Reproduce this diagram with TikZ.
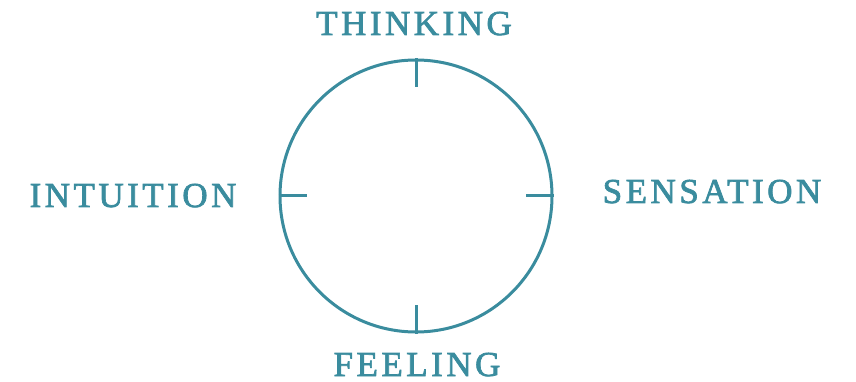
\documentclass[tikz,border=0pt]{standalone}
\usepackage{fontspec}
\setmainfont{Liberation Serif}
\newfontfamily\labfont[LetterSpace=10,FakeBold=2]{Liberation Serif}
\definecolor{jteal}{RGB}{58,140,158}
\begin{document}
\begin{tikzpicture}[x=1pt,y=-1pt,
  lab/.style={text=jteal, font=\labfont\fontsize{35}{35}\selectfont, inner sep=0pt, anchor=base},
  tick/.style={draw=jteal, line width=3pt}]
\useasboundingbox (0,0) rectangle (856,382);
\node[circle, draw=jteal, line width=3pt, minimum size=272pt, inner sep=0pt] (c) at (416,196) {};
\coordinate (tn) at ([yshift=-29pt]c.north);
\coordinate (ts) at ([yshift=29pt]c.south);
\coordinate (tw) at ([xshift=28pt]c.west);
\coordinate (te) at ([xshift=-28pt]c.east);
\draw[tick] (c.north) -- (tn);
\draw[tick] (c.south) -- (ts);
\draw[tick] (c.west) -- (tw);
\draw[tick] (c.east) -- (te);
\node[lab] (think) at (414,35) {THINKING};
\node[lab] (intu) at (133,207) {INTUITION};
\node[lab] (sens) at (712,203) {SENSATION};
\node[lab] (feel) at (417,376) {FEELING};
\end{tikzpicture}
\end{document}
